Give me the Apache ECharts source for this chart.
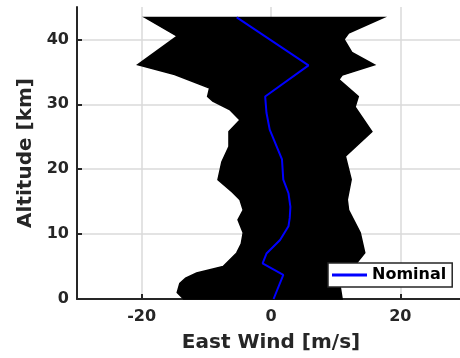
<!DOCTYPE html>
<html><head><meta charset="utf-8">
<script src="https://cdn.jsdelivr.net/npm/echarts@6/dist/echarts.min.js"></script>
<style>html,body{margin:0;padding:0;background:#fff}#c{width:460px;height:358px}</style>
</head><body><div id="c"></div>
<script>
// Tick values
const xTicks = [-20, 0, 20];
const yTicks = [0, 10, 20, 30, 40];

// Nominal profile (altitude km, east wind m/s)
const nominalAlt  = [43.4, 36.0, 31.2, 28.7, 26.1, 21.5, 18.4, 16.3, 14.2, 12.5, 11.2, 9.1, 7.0, 5.5, 3.7, 0];
const nominalWind = [-5.3, 5.8, -0.9, -0.7, -0.2, 1.7, 1.9, 2.7, 3.0, 2.9, 2.7, 1.4, -0.7, -1.3, 1.9, 0.4];

// Ensemble envelope: left (minimum) edge, top to bottom
const leftAlt  = [43.4, 40.5, 36.1, 34.6, 32.5, 31.2, 30.5, 29.2, 27.6, 25.8, 23.5, 21.1, 18.4, 16.5, 15.3, 13.7, 12.2, 10.2, 8.5, 7.1, 5.0, 4.0, 3.2, 2.4, 1.0, 0];
const leftWind = [-19.5, -14.5, -20.6, -14.9, -9.5, -9.8, -9.0, -6.4, -4.8, -6.5, -6.5, -7.6, -8.2, -6.0, -4.8, -4.3, -5.1, -4.3, -4.6, -5.3, -7.4, -11.5, -13.2, -14.1, -14.5, -13.5];
// Ensemble envelope: right (maximum) edge, top to bottom
const rightAlt  = [43.4, 41.0, 40.0, 38.0, 36.1, 34.5, 33.8, 31.2, 29.6, 25.8, 22.0, 18.4, 15.3, 13.7, 10.2, 7.1, 4.0, 1.9, 0];
const rightWind = [17.4, 12.0, 11.3, 12.5, 16.0, 11.0, 10.5, 13.5, 13.0, 15.6, 11.5, 12.4, 11.8, 12.0, 13.8, 14.5, 12.0, 10.7, 11.0];

const axisColor = '#262626';
const font = 'DejaVu Sans';

const chart = echarts.init(document.getElementById('c'), null, {renderer: 'canvas'});
chart.setOption({
  animation: false,
  backgroundColor: '#fff',
  grid: {left: 77, top: 7, right: -5, bottom: 59, containLabel: false, outerBoundsMode: 'none'},
  xAxis: {
    type: 'value', min: -30, max: 30,
    name: 'East Wind [m/s]', nameLocation: 'middle', nameGap: 34,
    nameTextStyle: {fontFamily: font, fontWeight: 'bold', fontSize: 20, color: axisColor},
    axisLine: {show: true, lineStyle: {color: axisColor, width: 2}},
    axisTick: {show: true, inside: true, length: 5, customValues: xTicks, lineStyle: {color: axisColor, width: 2}},
    axisLabel: {customValues: xTicks, fontFamily: font, fontWeight: 'bold', fontSize: 16, color: axisColor, margin: 10},
    splitLine: {show: true, customValues: xTicks, lineStyle: {color: '#dadada', width: 1.5}}
  },
  yAxis: {
    type: 'value', min: 0, max: 45,
    name: 'Altitude [km]', nameLocation: 'middle', nameGap: 39, nameRotate: 90,
    nameTextStyle: {fontFamily: font, fontWeight: 'bold', fontSize: 20, color: axisColor},
    axisLine: {show: true, onZero: false, lineStyle: {color: axisColor, width: 2}},
    axisTick: {show: true, inside: true, length: 5, customValues: yTicks, lineStyle: {color: axisColor, width: 2}},
    axisLabel: {customValues: yTicks, fontFamily: font, fontWeight: 'bold', fontSize: 16, color: axisColor, margin: 8},
    splitLine: {show: true, customValues: yTicks, lineStyle: {color: '#dadada', width: 1.5}}
  },
  legend: {
    data: ['Nominal'], left: 328, top: 263,
    backgroundColor: '#fff', borderColor: axisColor, borderWidth: 1.5,
    padding: [4, 6, 4, 4], icon: 'rect', itemWidth: 35, itemHeight: 3,
    textStyle: {fontFamily: font, fontWeight: 'bold', fontSize: 16, color: '#000'}
  },
  series: [
    {
      type: 'custom', name: 'Ensemble', data: [[0, 0]], silent: true, z: 1,
      renderItem: function (params, api) {
        const pts = [];
        for (let i = 0; i < leftAlt.length; i++) pts.push(api.coord([leftWind[i], leftAlt[i]]));
        for (let i = rightAlt.length - 1; i >= 0; i--) pts.push(api.coord([rightWind[i], rightAlt[i]]));
        return {type: 'polygon', shape: {points: pts}, style: {fill: '#000', stroke: '#000', lineWidth: 1.5}};
      }
    },
    {
      type: 'line', name: 'Nominal', z: 3,
      data: nominalAlt.map((a, i) => [nominalWind[i], a]),
      showSymbol: false, symbol: 'none',
      lineStyle: {color: '#0000ff', width: 2}, itemStyle: {color: '#0000ff'}
    }
  ]
});
</script>
</body></html>
